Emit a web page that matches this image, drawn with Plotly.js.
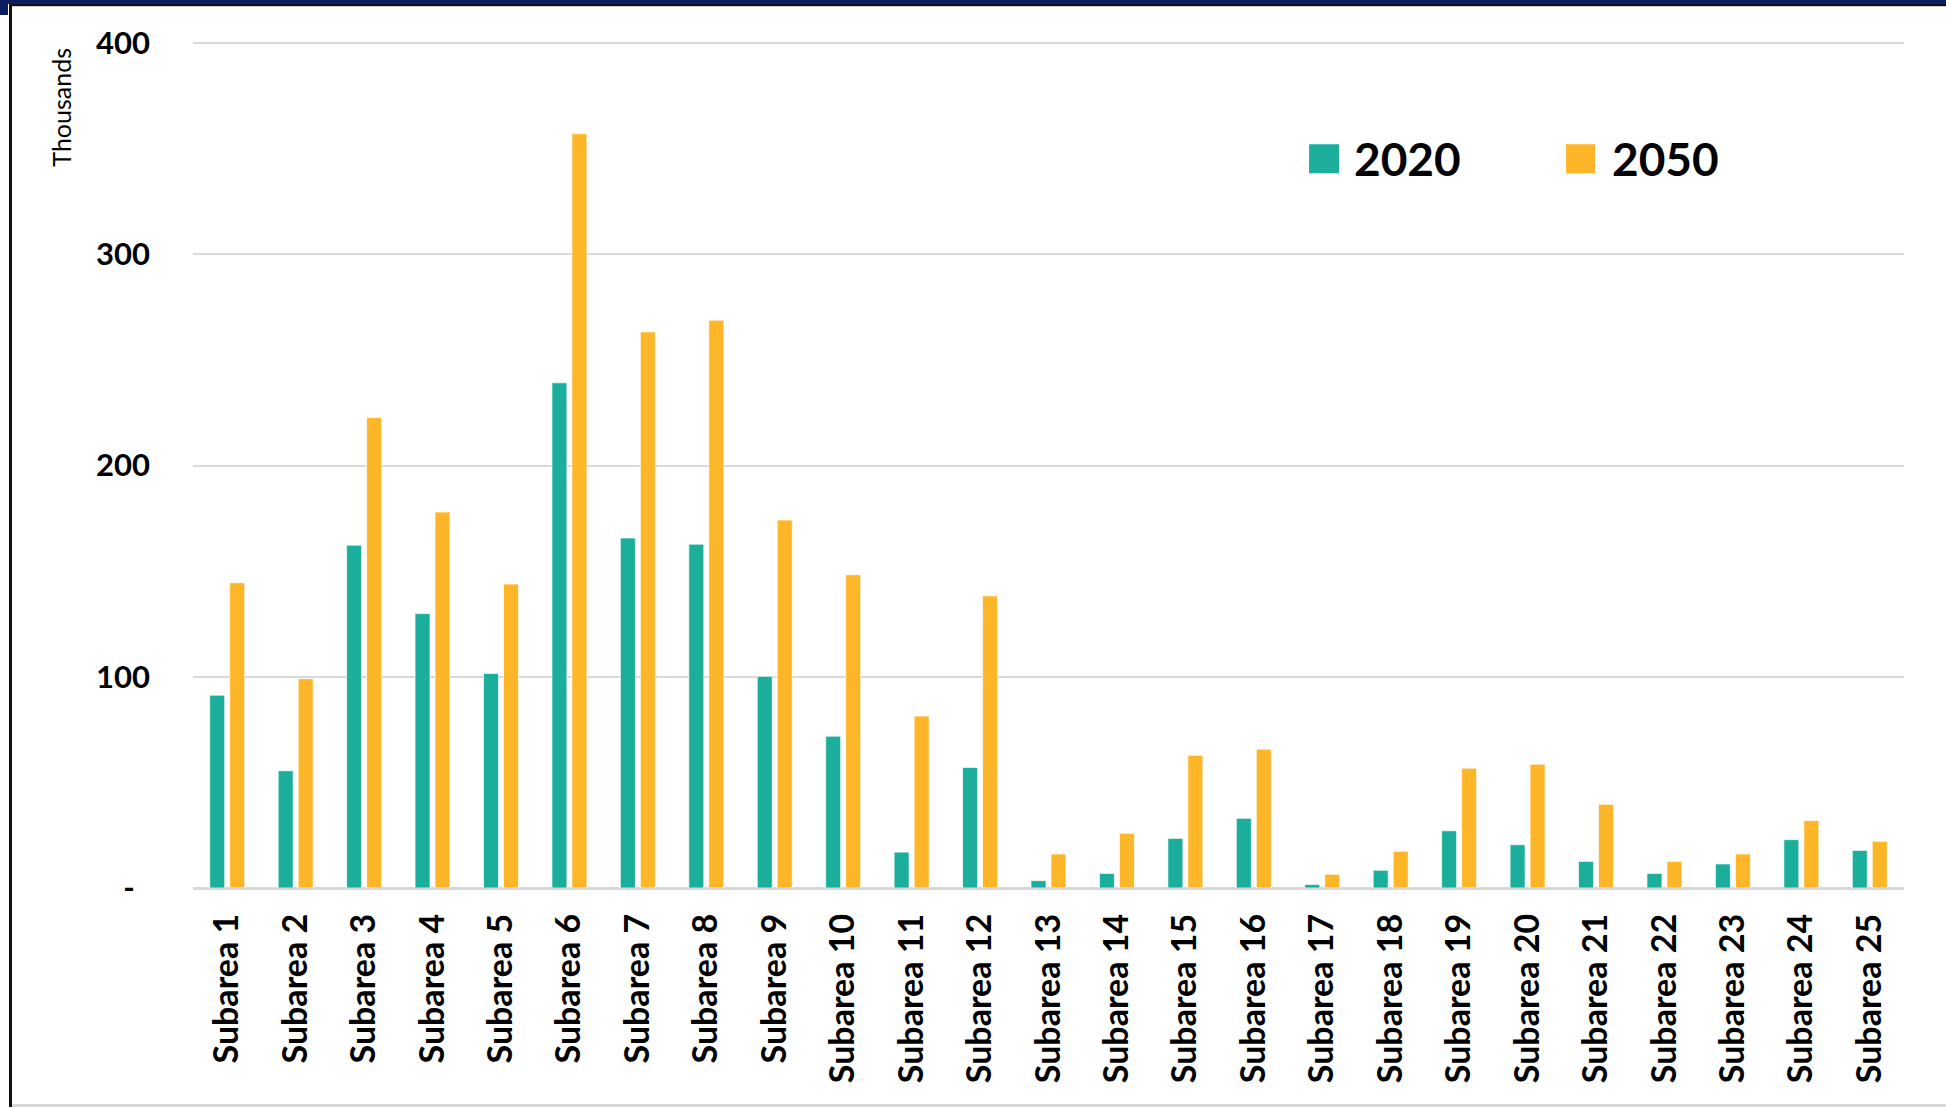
<!DOCTYPE html>
<html>
<head>
<meta charset="utf-8">
<script src="https://cdn.plot.ly/plotly-3.0.1.min.js"></script>
<style>
html,body{margin:0;padding:0;background:#fff;overflow:hidden}
#chart{position:absolute;left:0;top:0;width:1946px;height:1107px}
.b{position:absolute;pointer-events:none}
</style>
</head>
<body>
<div id="chart"></div>
<div class="b" style="left:0;top:0;width:1946px;height:4px;background:#0b1f5e"></div>
<div class="b" style="left:0;top:0;width:8px;height:15px;background:#0b1f5e"></div>
<div class="b" style="left:9px;top:4px;width:1937px;height:2px;background:#111"></div>
<div class="b" style="left:9px;top:4px;width:3px;height:1103px;background:#111"></div>
<div class="b" style="left:12px;top:6px;width:1934px;height:1px;background:#cfcfcf"></div>
<div class="b" style="left:12px;top:1104px;width:1934px;height:3px;background:#d9d9d9"></div>
<script>
// Categories (subareas)
const categories = ["Subarea 1","Subarea 2","Subarea 3","Subarea 4","Subarea 5","Subarea 6","Subarea 7","Subarea 8","Subarea 9","Subarea 10","Subarea 11","Subarea 12","Subarea 13","Subarea 14","Subarea 15","Subarea 16","Subarea 17","Subarea 18","Subarea 19","Subarea 20","Subarea 21","Subarea 22","Subarea 23","Subarea 24","Subarea 25"];
// Values in thousands
const values2020 = [91.3, 55.5, 162.3, 129.9, 101.6, 239.2, 165.7, 162.8, 100.2, 71.9, 17.0, 57.1, 3.5, 6.9, 23.5, 33.0, 1.7, 8.4, 27.1, 20.5, 12.6, 6.9, 11.4, 22.9, 17.8];
const values2050 = [144.5, 99.1, 222.7, 178.0, 143.9, 357.1, 263.3, 268.8, 174.2, 148.3, 81.4, 138.3, 16.1, 25.9, 62.8, 65.7, 6.5, 17.4, 56.7, 58.6, 39.6, 12.6, 16.1, 31.9, 22.1];
const seriesNames = ["2020", "2050"];
const yTickVals = [0, 100, 200, 300, 400];
const yTickText = ["-\u00a0\u00a0", "100", "200", "300", "400"];
const yUnitLabel = "Thousands";

const colors = ["#1BAF9B", "#FDB628"];
const FONT = "Lato, 'Open Sans', sans-serif";

const traces = [values2020, values2050].map((vals, i) => ({
  type: "bar",
  name: seriesNames[i],
  x: categories,
  y: vals,
  marker: {color: colors[i], line: {color: "rgba(255,255,255,0.7)", width: 1}},
  hoverinfo: "x+y+name"
}));

// legend drawn with shapes + annotations (large squares like the reference)
const legendPos = [
  {sx0: 0.6523, sx1: 0.6698, tx: 0.6772},
  {sx0: 0.8025, sx1: 0.8194, tx: 0.8279}
];
const shapes = legendPos.map((p, i) => ({
  type: "rect", xref: "paper", yref: "paper",
  x0: p.sx0, x1: p.sx1, y0: 0.8438, y1: 0.8781,
  fillcolor: colors[i], line: {width: 0}
}));
const annotations = legendPos.map((p, i) => ({
  xref: "paper", yref: "paper", x: p.tx, y: 0.861,
  xanchor: "left", yanchor: "middle", showarrow: false,
  text: "<b>" + seriesNames[i] + "</b>",
  font: {family: FONT, size: 46, color: "#000"}
}));
annotations.push({
  xref: "paper", yref: "paper", x: -0.0771, y: 0.994,
  xanchor: "center", yanchor: "top", showarrow: false,
  textangle: -90, text: yUnitLabel,
  font: {family: FONT, size: 25, color: "#000"}
});

const layout = {
  width: 1946, height: 1107,
  margin: {l: 193, r: 42, t: 41, b: 219, pad: 0},
  paper_bgcolor: "#fff", plot_bgcolor: "#fff",
  showlegend: false,
  barmode: "group",
  bargap: 0.4156,
  bargroupgap: 0.25,
  font: {family: FONT, color: "#000"},
  xaxis: {
    type: "category",
    tickangle: -90,
    tickfont: {family: FONT, size: 34, color: "#000", weight: "bold"},
    ticks: "",
    ticklabelstandoff: 18,
    showgrid: false,
    showline: false,
    zeroline: false
  },
  yaxis: {
    range: [0, 401],
    tickvals: yTickVals,
    ticktext: yTickText,
    tickfont: {family: FONT, size: 31, color: "#000", weight: "bold"},
    ticks: "",
    ticklabelstandoff: 42,
    showgrid: true,
    gridcolor: "#d9d9d9",
    gridwidth: 2,
    zeroline: true,
    zerolinecolor: "#d9d9d9",
    zerolinewidth: 3,
    showline: false
  },
  shapes: shapes,
  annotations: annotations
};

Plotly.newPlot("chart", traces, layout, {displayModeBar: false, staticPlot: true});
</script>
</body>
</html>
